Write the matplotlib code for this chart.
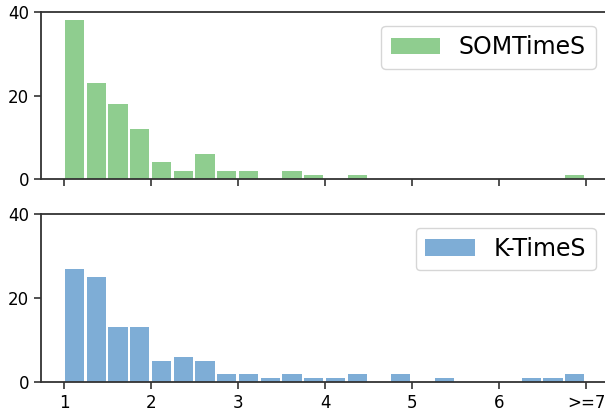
import numpy as np
import matplotlib
matplotlib.use("Agg")
import matplotlib.pyplot as plt

# histogram counts, bins of width 0.25 from 1 to 7 (last bin holds >=7)
bin_width = 0.25
som_counts = [38, 23, 18, 12, 4, 2, 6, 2, 2, 0, 2, 1, 0, 1, 0, 0, 0, 0, 0, 0, 0, 0, 0, 1]
kts_counts = [27, 25, 13, 13, 5, 6, 5, 2, 2, 1, 2, 1, 1, 2, 0, 2, 0, 1, 0, 0, 0, 1, 1, 2]
xticks = [1, 2, 3, 4, 5, 6, 7]
xticklabels = ["1", "2", "3", "4", "5", "6", ">=7"]
yticks = [0, 20, 40]

left_edges = 1 + bin_width * np.arange(len(som_counts))

fig = plt.figure(figsize=(6.05, 4.11), dpi=100)
ax1 = fig.add_axes([0.0678, 0.5645, 0.9322, 0.406])
ax2 = fig.add_axes([0.0678, 0.0706, 0.9322, 0.409])

panels = [
    (ax1, som_counts, "#8fcd8f", "SOMTimeS"),
    (ax2, kts_counts, "#7eadd6", "K-TimeS"),
]

for ax, counts, color, label in panels:
    ax.bar(left_edges + 0.01, counts, width=0.22, align="edge",
           color=color, label=label)
    ax.set_xlim(0.736, 7.218)
    ax.set_ylim(0, 40)
    ax.set_yticks(yticks)
    ax.set_xticks(xticks)
    ax.spines["right"].set_visible(False)
    for s in ["left", "top", "bottom"]:
        ax.spines[s].set_linewidth(1.3)
        ax.spines[s].set_color("#333333")
    ax.tick_params(labelsize=12, width=1.2, length=5, color="#333333")
    ax.legend(loc="upper right", fontsize=17, handlelength=2.1,
              borderaxespad=0.4, bbox_to_anchor=(1.0, 0.975))

ax1.set_xticklabels([])
ax2.set_xticklabels(xticklabels)

fig.savefig("out.png", dpi=100)
